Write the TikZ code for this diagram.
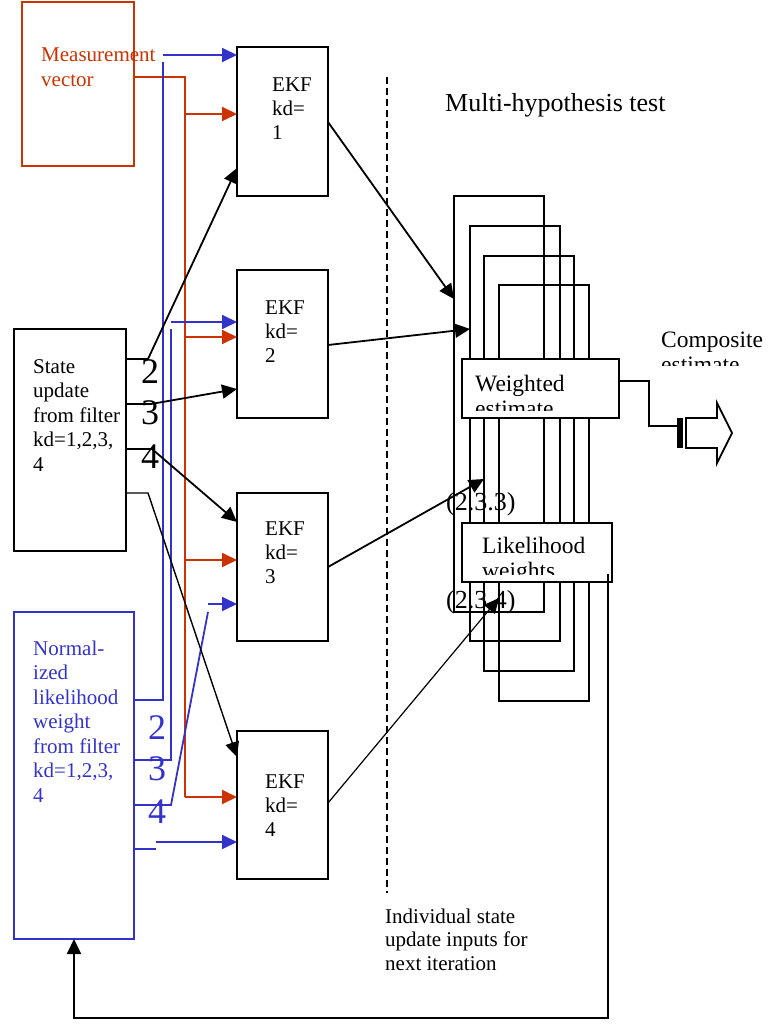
\documentclass[tikz,border=0pt]{standalone}
\usepackage{fontspec}
\setmainfont{Liberation Serif}
\usetikzlibrary{arrows.meta}
\definecolor{mred}{RGB}{204,51,0}
\definecolor{mblue}{RGB}{51,51,204}
\newcommand{\mltext}[1]{\begin{tabular}[t]{@{}l@{}}#1\end{tabular}}
\newcommand{\mkbox}[6]{\node[#6, anchor=north west, minimum width={#4-#2}, minimum height={#5-#3}, inner sep=0pt, outer sep=0pt] (#1) at (#2,#3) {};}
\begin{document}
\begin{tikzpicture}[x=1pt,y=-1pt,
  box/.style={draw=black, line width=2.2pt, fill=white},
  con/.style={line width=1.8pt},
  tip/.style={-{Triangle[length=15pt,width=14pt]}},
  rtip/.style={-{Triangle[length=15pt,width=14pt,fill=mred]}},
  btip/.style={-{Triangle[length=15pt,width=14pt,fill=mblue]}},
  small/.style={font=\fontsize{21}{24.5}\selectfont, inner sep=0pt, anchor=base west},
  ekftext/.style={font=\fontsize{21}{24}\selectfont, inner sep=0pt, anchor=base west},
  mid/.style={font=\fontsize{23.5}{25}\selectfont, inner sep=0pt, anchor=base west},
  digit/.style={font=\fontsize{36}{40}\selectfont, inner sep=0pt, anchor=base},
  eq/.style={font=\fontsize{26}{30}\selectfont, inner sep=0pt, anchor=base west}]
\useasboundingbox (0,0) rectangle (772,1024);

% left boxes
\mkbox{meas}{22}{2}{134}{166}{draw=mred, line width=2.2pt}
\mkbox{state}{14}{329}{126}{551}{box}
\mkbox{norm}{14}{612}{134}{939}{draw=mblue, line width=2.2pt}
\node[small, text=mred] (meastext) at (41,62) {\mltext{Measurement\\vector}};
\node[small] (statetext) at (33,373) {\mltext{State\\update\\from filter\\kd=1,2,3,\\4}};
\node[small, text=mblue] (normtext) at (33,655) {\mltext{Normal-\\ized\\likelihood\\weight\\from filter\\kd=1,2,3,\\4}};

% EKF boxes
\mkbox{ekf1}{237}{47}{328}{196}{box}
\mkbox{ekf2}{237}{270}{328}{418}{box}
\mkbox{ekf3}{237}{493}{328}{641}{box}
\mkbox{ekf4}{237}{731}{328}{879}{box}
\node[ekftext] (t1) at (272,92) {\mltext{EKF\\kd=\\1}};
\node[ekftext] (t2) at (265,314) {\mltext{EKF\\kd=\\2}};
\node[ekftext] (t3) at (265,535) {\mltext{EKF\\kd=\\3}};
\node[ekftext] (t4) at (265,788) {\mltext{EKF\\kd=\\4}};

% red measurement lines
\draw[con, draw=mred] (meas.east |- 0,77) -- (185,77) -- (185,797);
\draw[con, draw=mred, rtip] (185,114) -- (ekf1.west |- 0,114);
\draw[con, draw=mred, rtip] (185,337) -- (ekf2.west |- 0,337);
\draw[con, draw=mred, rtip] (185,560) -- (ekf3.west |- 0,560);
\draw[con, draw=mred, rtip] (185,797) -- (ekf4.west |- 0,797);

% blue weight lines
\coordinate (b1) at (163,55);
\coordinate (b2) at (171,322);
\coordinate (b3) at (208,604);
\coordinate (b4) at (156,842);
\draw[con, draw=mblue] (norm.east |- 0,700) -- (163,700) -- (163,62);
\draw[con, draw=mblue, btip] (b1) -- (ekf1.west |- b1);
\draw[con, draw=mblue] (norm.east |- 0,760) -- (171,760) -- (171,329);
\draw[con, draw=mblue, btip] (b2) -- (ekf2.west |- b2);
\draw[con, draw=mblue] (norm.east |- 0,805) -- (171,805) -- (208,612);
\draw[con, draw=mblue, btip] (b3) -- (ekf3.west |- b3);
\draw[con, draw=mblue] (norm.east |- 0,849) -- (156,849);
\draw[con, draw=mblue, btip] (b4) -- (ekf4.west |- b4);

% black state lines
\draw[con, tip] (state.east |- 0,359) -- (148,359) -- (ekf1.west |- 0,168);
\draw[con, tip] (state.east |- 0,404) -- (151,404) -- (ekf2.west |- 0,389);
\draw[con, tip] (state.east |- 0,449) -- (152,449) -- (ekf3.west |- 0,522);
\draw[con, line width=1.4pt, tip] (state.east |- 0,493) -- (148,493) -- (ekf4.west |- 0,757);

% digits
\node[digit] (d2) at (150,383) {2};
\node[digit] (d3) at (150,424) {3};
\node[digit] (d4) at (150,468) {4};
\node[digit, text=mblue] (e2) at (157,739) {2};
\node[digit, text=mblue] (e3) at (157,780) {3};
\node[digit, text=mblue] (e4) at (157,823) {4};

% dashed separator
\draw[line width=1.6pt, dash pattern=on 7pt off 4pt] (387,77) -- (387,893);

% nested hypothesis rectangles
\mkbox{h1}{454}{196}{544}{612}{draw, line width=2.2pt}
\mkbox{h2}{470}{226}{560}{641}{draw, line width=2.2pt}
\mkbox{h3}{484}{256}{574}{671}{draw, line width=2.2pt}
\mkbox{h4}{499}{285}{589}{701}{draw, line width=2.2pt}

% EKF outputs
\draw[con, tip] (ekf1.east |- 0,122) -- (h1.west |- 0,299);
\draw[con, tip] (ekf2.east |- 0,345) -- (h2.west |- 0,329);
\draw[con, tip] (ekf3.east |- 0,567) -- (h3.west |- 0,479);
\draw[line width=1.2pt, tip] (ekf4.east |- 0,803) -- (h4.west |- 0,598);

% weighted and likelihood boxes
\mkbox{west}{462}{359}{619}{418}{box}
\begin{scope}
\clip (462,359) rectangle (619,410);
\node[mid] (wtext) at (475,391) {\mltext{Weighted\\estimate}};
\end{scope}
\mkbox{lik}{462}{523}{612}{582}{box}
\begin{scope}
\clip (462,523) rectangle (612,574);
\node[mid] (ltext) at (482,553) {\mltext{Likelihood\\weights}};
\end{scope}

\node[eq] (eq1) at (446,510) {(2.3.3)};
\node[eq] (eq2) at (446,608) {(2.3.4)};

% composite estimate
\begin{scope}
\clip (650,320) rectangle (772,365);
\node[mid] (ctext) at (661,347) {\mltext{Composite\\estimate}};
\end{scope}
\coordinate (ca) at (677,426);
\draw[con] (west.east |- 0,381) -- (649,381) -- (649,426) -- (ca);
\fill (677,418) rectangle (683,448);
\draw[line width=1.8pt, line join=miter] (686,418) -- (717,418) -- (717,403) -- (732,433) -- (717,463) -- (717,448) -- (686,448) -- cycle;

\node[font=\fontsize{26}{30}\selectfont, inner sep=0pt, anchor=base west] (mh) at (445,112) {Multi-hypothesis test};

% feedback
\coordinate (fb) at (608,574);
\draw[line width=2.2pt, tip] (fb) -- (608,1018) -- (74,1018) -- (norm.south);
\node[small, font=\fontsize{21}{23.5}\selectfont] (ind) at (385,923) {\mltext{Individual state\\update inputs for\\next iteration}};
\end{tikzpicture}
\end{document}
